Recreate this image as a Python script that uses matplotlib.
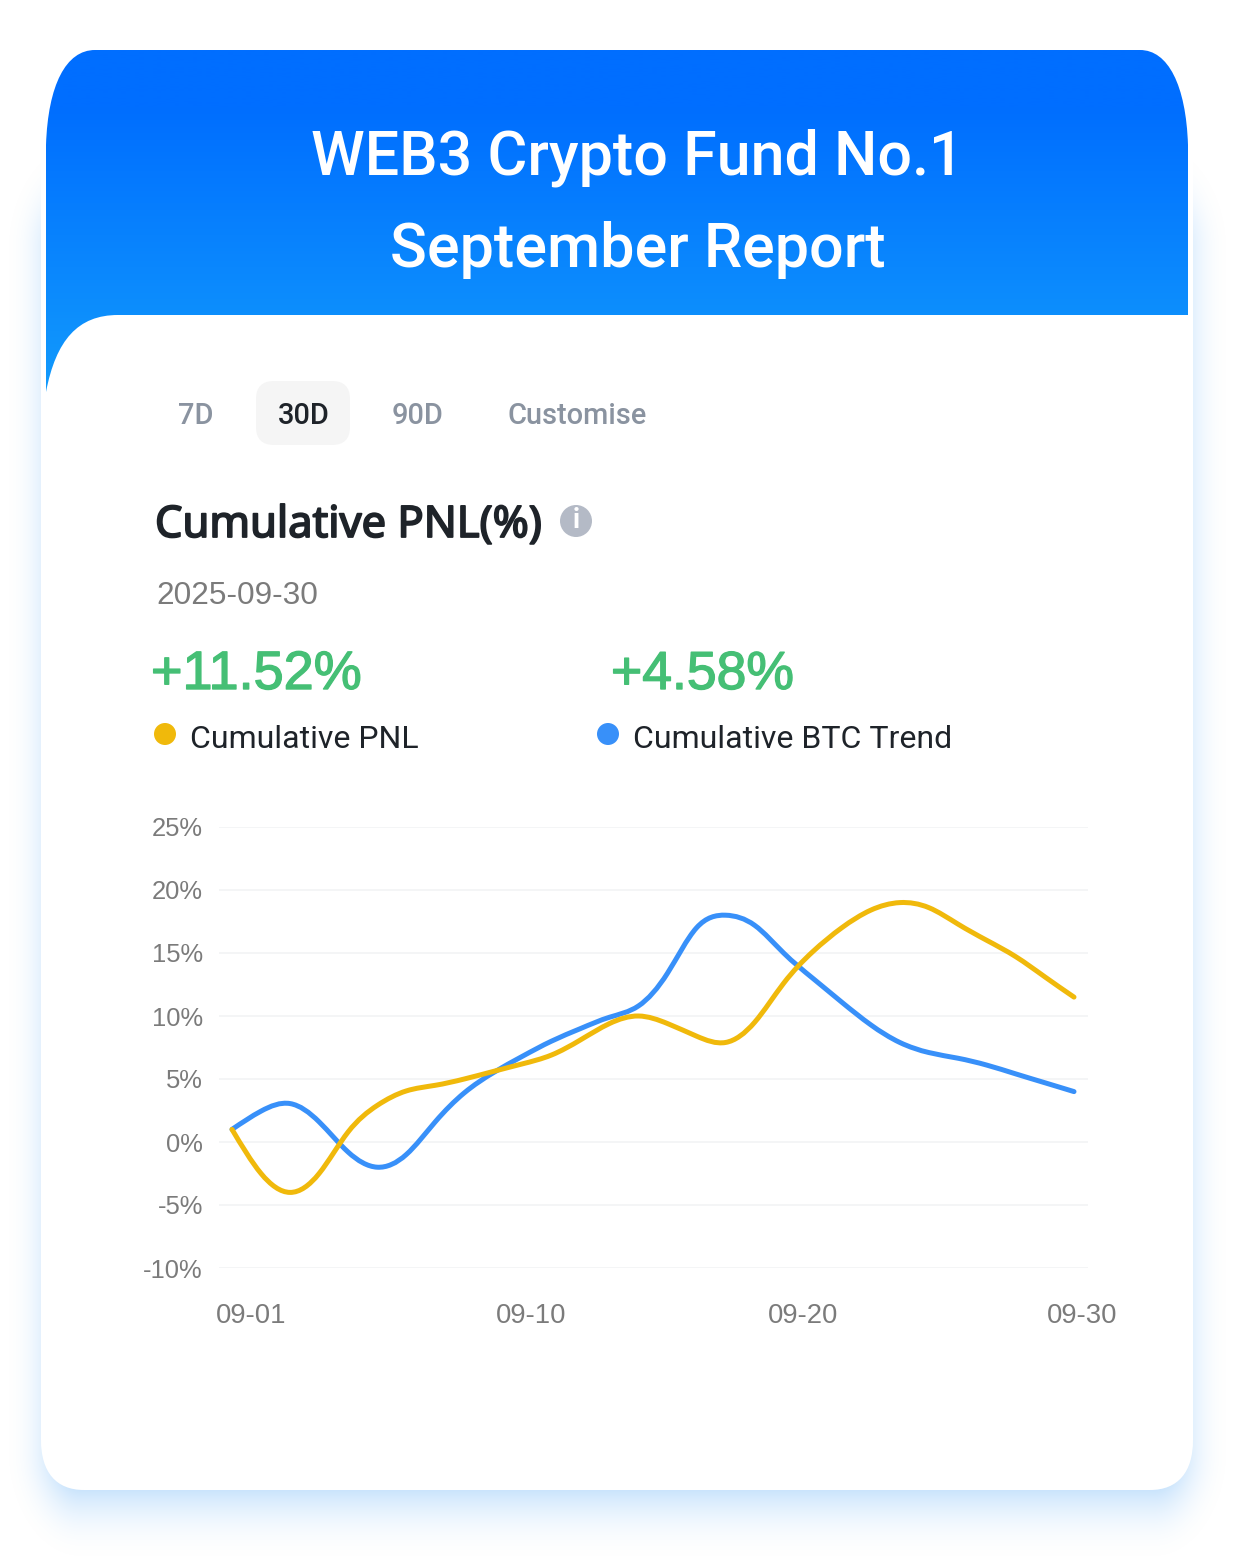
import numpy as np
import matplotlib
matplotlib.use("Agg")
import matplotlib.pyplot as plt
import matplotlib.patheffects as pe
from matplotlib.patches import Circle, FancyBboxPatch, PathPatch
from matplotlib.path import Path

# values
days = list(range(1, 31))
pnl = [1.0, -2.5, -4.0, -2.5, 0.8, 2.9, 4.05, 4.5, 5.0, 5.6, 6.2, 6.9, 8.1, 9.4, 10.0,
       9.4, 8.4, 7.9, 9.5, 12.6, 15.1, 17.0, 18.4, 19.0, 18.6, 17.3, 16.0, 14.7, 13.1, 11.5]
btc = [1.0, 2.45, 3.05, 1.6, -0.8, -2.0, -1.0, 1.6, 3.9, 5.5, 6.8, 8.0, 9.0, 9.9, 10.8,
       13.4, 17.0, 18.0, 17.2, 15.0, 13.0, 11.1, 9.3, 7.9, 7.1, 6.65, 6.1, 5.4, 4.7, 4.0]
y_ticks = [-10, -5, 0, 5, 10, 15, 20, 25]
x_labels = ['09-01', '09-10', '09-20', '09-30']
x_label_pos = [1.65, 11.3, 20.67, 30.28]  # labels do not sit on their days in the original
tabs = ['7D', '30D', '90D', 'Customise']
tab_x = [196, 304, 418, 577]

W, H = 1238, 1556
YELLOW = '#F0B90B'
BLUE = '#3890F9'
DARK = '#1E2329'
GREY = '#7B7B7B'
GREEN = '#45BF75'


def px(size):
    # font size given in image pixels
    return size * 72 / 100


def smooth_path(x, y):
    # natural cubic spline through the daily values (unit spacing), as bezier segments
    y = np.asarray(y, float)
    n = len(y)
    A = np.zeros((n, n))
    b = np.zeros(n)
    A[0, 0], A[0, 1] = 2, 1
    b[0] = 3 * (y[1] - y[0])
    A[-1, -1], A[-1, -2] = 2, 1
    b[-1] = 3 * (y[-1] - y[-2])
    for i in range(1, n - 1):
        A[i, i - 1], A[i, i], A[i, i + 1] = 1, 4, 1
        b[i] = 3 * (y[i + 1] - y[i - 1])
    m = np.linalg.solve(A, b)
    verts = [(x[0], y[0])]
    codes = [Path.MOVETO]
    for i in range(n - 1):
        verts.append((x[i] + 1 / 3, y[i] + m[i] / 3))
        verts.append((x[i + 1] - 1 / 3, y[i + 1] - m[i + 1] / 3))
        verts.append((x[i + 1], y[i + 1]))
        codes += [Path.CURVE4] * 3
    return Path(verts, codes)


def shadow_image():
    # soft blue glow around the card, wider below than at the sides
    yy, xx = np.mgrid[0:H, 0:W]
    x0, x1, y0, y1 = 41, 1193, 210, 1490
    r = 40
    dx = np.maximum(np.maximum(x0 + r - xx, xx - (x1 - r)), 0) * 1.45
    dy = np.maximum(np.maximum(y0 + r - yy, yy - (y1 - r)), 0)
    d = np.maximum(np.hypot(dx, dy) - r, 0)
    a = np.clip(1 - d / 72, 0, 1) ** 2.2
    img = np.ones((H, W, 4))
    img[..., 0] = 190 / 255
    img[..., 1] = 222 / 255
    img[..., 2] = 252 / 255
    img[..., 3] = a * 0.8
    return img


fig = plt.figure(figsize=(W / 100, H / 100), dpi=100, facecolor='white')
bg = fig.add_axes([0, 0, 1, 1])
bg.set_xlim(0, W)
bg.set_ylim(H, 0)
bg.axis('off')

bg.imshow(shadow_image(), extent=(0, W, H, 0), aspect='auto', zorder=1, interpolation='bilinear')

# white card, it sticks out a few pixels past the blue header
card = Path(
    [(41, 150), (1193, 150), (1193, 1440), (1193, 1472), (1178, 1490), (1150, 1490),
     (84, 1490), (56, 1490), (41, 1472), (41, 1440), (41, 150)],
    [Path.MOVETO, Path.LINETO, Path.LINETO, Path.CURVE4, Path.CURVE4, Path.CURVE4,
     Path.LINETO, Path.CURVE4, Path.CURVE4, Path.CURVE4, Path.CLOSEPOLY])
bg.add_patch(PathPatch(card, fc='white', ec='none', zorder=2))

# header gradient clipped to its rounded outline
grad = np.zeros((400, 1, 3))
t = np.clip(np.linspace(-0.2, 1.0, 400), 0, 1)[:, None]
grad[..., 0] = (0 + 18 * t) / 255
grad[..., 1] = (110 + 45 * t) / 255
grad[..., 2] = (255 - 3 * t) / 255
im = bg.imshow(grad, extent=(46, 1188, 395, 50), aspect='auto', zorder=3, interpolation='bilinear')
header = Path(
    [(46, 395), (46, 145), (48, 85), (66, 50), (95, 50), (1140, 50), (1168, 50), (1186, 85),
     (1188, 145), (1188, 395), (46, 395)],
    [Path.MOVETO, Path.LINETO, Path.CURVE4, Path.CURVE4, Path.CURVE4, Path.LINETO,
     Path.CURVE4, Path.CURVE4, Path.CURVE4, Path.LINETO, Path.CLOSEPOLY])
clip = PathPatch(header, transform=bg.transData, fc='none', ec='none')
bg.add_patch(clip)
im.set_clip_path(clip)
bg.set_xlim(0, W)
bg.set_ylim(H, 0)

# white body with the concave corner cut into the header
body = Path(
    [(46, 392), (56, 340), (78, 315), (118, 315), (1193, 315), (1193, 420), (41, 420), (41, 392), (46, 392)],
    [Path.MOVETO, Path.CURVE4, Path.CURVE4, Path.CURVE4, Path.LINETO, Path.LINETO, Path.LINETO,
     Path.LINETO, Path.CLOSEPOLY])
bg.add_patch(PathPatch(body, fc='white', ec='none', zorder=4))

bg.text(637, 174, 'WEB3 Crypto Fund No.1', color='white', fontsize=px(61), fontfamily='Roboto',
        fontweight='medium', ha='center', va='baseline', zorder=5)
bg.text(638, 267, 'September Report', color='white', fontsize=px(61), fontfamily='Roboto',
        fontweight='medium', ha='center', va='baseline', zorder=5)

# range tabs
bg.add_patch(FancyBboxPatch((256 + 18, 381 + 18), 94 - 36, 64 - 36, boxstyle='round,pad=18',
                            fc='#F5F5F5', ec='none', zorder=5))
for name, x in zip(tabs, tab_x):
    bg.text(x, 424, name, color=DARK if name == '30D' else '#8A93A0', fontsize=px(29),
            fontfamily='Roboto', fontweight='medium', ha='center', va='baseline', zorder=6)

# Noto Sans only comes in regular here, thicken it with a stroke
bg.text(155, 537, 'Cumulative PNL(%)', color=DARK, fontsize=px(43.5), fontfamily='Noto Sans',
        ha='left', va='baseline', zorder=6,
        path_effects=[pe.withStroke(linewidth=1.3, foreground=DARK)])
bg.add_patch(Circle((576, 521), 16, fc='#B4BAC6', ec='none', zorder=6))
bg.text(576, 521, 'i', color='white', fontsize=px(27), fontfamily='Roboto', fontweight='bold',
        ha='center', va='center', zorder=7)

bg.text(156, 604, '2025-09-30', color=GREY, fontsize=px(31.5), fontfamily='Liberation Sans',
        ha='left', va='baseline', zorder=6)
stroke = [pe.withStroke(linewidth=1.0, foreground=GREEN)]
bg.text(151, 689, '+11.52%', color=GREEN, fontsize=px(54), fontfamily='Liberation Sans',
        ha='left', va='baseline', zorder=6, path_effects=stroke)
bg.text(611, 689, '+4.58%', color=GREEN, fontsize=px(53.5), fontfamily='Liberation Sans',
        ha='left', va='baseline', zorder=6, path_effects=stroke)

bg.add_patch(Circle((165, 734), 11, fc=YELLOW, ec='none', zorder=6))
bg.text(190, 748, 'Cumulative PNL', color=DARK, fontsize=px(32), fontfamily='Roboto',
        ha='left', va='baseline', zorder=6)
bg.add_patch(Circle((608, 734), 11, fc=BLUE, ec='none', zorder=6))
bg.text(633, 748, 'Cumulative BTC Trend', color=DARK, fontsize=px(32), fontfamily='Roboto',
        ha='left', va='baseline', zorder=6)

# chart
ax = fig.add_axes([219 / W, 1 - 1268 / H, (1088 - 219) / W, (1268 - 827) / H])
ax.patch.set_alpha(0)
ax.set_xlim(1 - 13 / 29.03, 30 + 14 / 29.03)
ax.set_ylim(-10, 25)
for s in ax.spines.values():
    s.set_visible(False)
ax.set_yticks(y_ticks)
ax.set_yticklabels([f'{v}%' for v in y_ticks])
ax.set_xticks(x_label_pos)
ax.set_xticklabels(x_labels)
ax.tick_params(axis='both', length=0, colors=GREY)
ax.tick_params(axis='y', pad=px(16), labelsize=px(25.5))
ax.tick_params(axis='x', pad=px(35), labelsize=px(27.5))
for lab in ax.get_xticklabels() + ax.get_yticklabels():
    lab.set_fontfamily('Liberation Sans')
ax.grid(axis='y', color='#F2F3F5', linewidth=px(1.6))
ax.set_axisbelow(True)

ax.add_patch(PathPatch(smooth_path(days, btc), fc='none', ec=BLUE, lw=px(5), capstyle='round', zorder=3))
ax.add_patch(PathPatch(smooth_path(days, pnl), fc='none', ec=YELLOW, lw=px(5), capstyle='round', zorder=4))

fig.savefig('out.png', dpi=100)
